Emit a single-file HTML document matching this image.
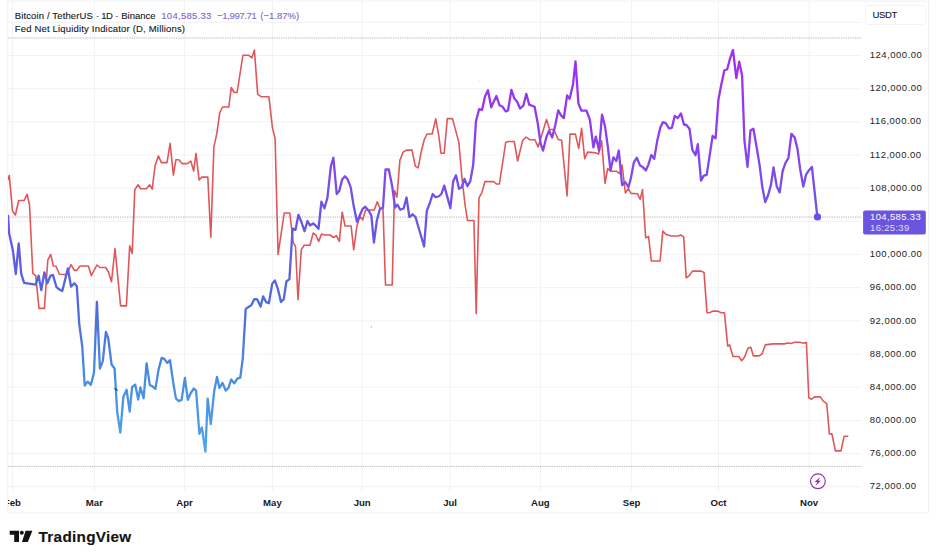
<!DOCTYPE html><html><head><meta charset="utf-8"><title>chart</title><style>
html,body{margin:0;padding:0;background:#fff}
body{width:936px;height:560px;position:relative;overflow:hidden;font-family:"Liberation Sans",sans-serif;color:#131722}
.t{position:absolute;white-space:nowrap;line-height:1;-webkit-text-stroke:0.12px}
.yl{position:absolute;left:869.8px;font-size:9.5px;letter-spacing:0.5px;line-height:12px;height:12px;color:#1b1e27;white-space:nowrap}
.xl{position:absolute;top:496.8px;font-size:9.6px;font-weight:bold;line-height:12px;color:#16181f;white-space:nowrap;transform:translateX(-50%)}

</style></head><body>
<svg width="936" height="560" viewBox="0 0 936 560" style="position:absolute;left:0;top:0">
<defs><linearGradient id="bg" gradientUnits="userSpaceOnUse" x1="0" y1="50" x2="0" y2="452"><stop offset="0" stop-color="#A22FF2"/><stop offset="0.15" stop-color="#9438F0"/><stop offset="0.30" stop-color="#7F49EC"/><stop offset="0.42" stop-color="#6A55E4"/><stop offset="0.55" stop-color="#5862DF"/><stop offset="0.63" stop-color="#5069DE"/><stop offset="0.72" stop-color="#4B7ADE"/><stop offset="0.82" stop-color="#498DE1"/><stop offset="0.92" stop-color="#4A9BE5"/><stop offset="1" stop-color="#4BA7EC"/></linearGradient><clipPath id="cp"><rect x="8" y="1" width="854" height="512"/></clipPath></defs>
<g stroke="#f2f2f3" stroke-width="1"><line x1="12.4" y1="1.5" x2="12.4" y2="490.7"/><line x1="94.4" y1="1.5" x2="94.4" y2="490.7"/><line x1="184.6" y1="1.5" x2="184.6" y2="490.7"/><line x1="272.4" y1="1.5" x2="272.4" y2="490.7"/><line x1="362.2" y1="1.5" x2="362.2" y2="490.7"/><line x1="450.1" y1="1.5" x2="450.1" y2="490.7"/><line x1="540.4" y1="1.5" x2="540.4" y2="490.7"/><line x1="631.6" y1="1.5" x2="631.6" y2="490.7"/><line x1="718.5" y1="1.5" x2="718.5" y2="490.7"/><line x1="809.1" y1="1.5" x2="809.1" y2="490.7"/><line x1="8" y1="22.3" x2="861.5" y2="22.3"/><line x1="8" y1="55.5" x2="861.5" y2="55.5"/><line x1="8" y1="88.7" x2="861.5" y2="88.7"/><line x1="8" y1="121.8" x2="861.5" y2="121.8"/><line x1="8" y1="155.0" x2="861.5" y2="155.0"/><line x1="8" y1="188.2" x2="861.5" y2="188.2"/><line x1="8" y1="221.4" x2="861.5" y2="221.4"/><line x1="8" y1="254.5" x2="861.5" y2="254.5"/><line x1="8" y1="287.7" x2="861.5" y2="287.7"/><line x1="8" y1="320.9" x2="861.5" y2="320.9"/><line x1="8" y1="354.0" x2="861.5" y2="354.0"/><line x1="8" y1="387.2" x2="861.5" y2="387.2"/><line x1="8" y1="420.4" x2="861.5" y2="420.4"/><line x1="8" y1="453.5" x2="861.5" y2="453.5"/><line x1="8" y1="486.7" x2="861.5" y2="486.7"/></g>
<path d="M7.7 1 H928.5 V513 H7.7 Z" fill="none" stroke="#eff0f2" stroke-width="1"/>
<g stroke="#a2a4ae" stroke-width="1" stroke-dasharray="0.8 0.95"><line x1="8" y1="38" x2="861.5" y2="38"/><line x1="8" y1="466.4" x2="861.5" y2="466.4"/><line x1="8" y1="217.05" x2="861.5" y2="217.05"/></g>
<g clip-path="url(#cp)"><path d="M8.1 179.5 L9.3 175.4 L12.5 211.1 L15.4 215.0 L18.7 200.5 L24.1 200.5 L27.0 194.3 L29.5 204.8 L32.8 273.3 L35.7 275.6 L39.0 308.4 L44.4 308.4 L47.8 260.2 L50.7 254.4 L53.4 266.0 L56.0 266.3 L59.4 274.2 L66.6 274.6 L71.0 264.6 L74.3 270.4 L76.8 270.4 L80.0 266.0 L88.4 266.0 L91.3 275.6 L96.9 265.0 L100.0 267.5 L105.7 267.5 L108.4 271.7 L111.5 281.8 L115.0 248.6 L120.6 305.9 L126.4 305.9 L129.7 245.7 L132.2 253.4 L134.8 189.6 L138.1 184.8 L140.6 188.7 L146.4 188.7 L149.7 184.8 L152.2 189.2 L155.1 165.5 L158.4 155.9 L161.4 162.6 L167.0 162.6 L170.1 143.3 L173.4 175.2 L175.9 159.7 L178.8 159.7 L182.1 163.6 L187.3 163.6 L190.8 161.1 L193.7 170.9 L196.0 153.4 L199.1 180.0 L202.0 177.1 L207.8 177.1 L210.8 237.2 L213.9 146.8 L216.8 133.7 L219.7 112.8 L222.6 107.0 L228.8 107.0 L231.3 87.5 L234.2 92.5 L237.1 92.5 L242.9 55.3 L248.7 55.3 L251.9 57.8 L254.4 50.0 L257.7 94.4 L261.2 96.7 L268.9 96.7 L272.4 127.6 L275.1 138.5 L278.1 254.4 L284.2 213.0 L289.8 213.0 L293.2 242.4 L295.5 246.3 L298.0 299.8 L301.3 249.6 L304.2 245.3 L310.0 245.3 L313.1 233.1 L315.8 235.0 L318.7 241.4 L321.5 234.1 L324.4 235.0 L330.2 235.0 L333.5 237.5 L336.4 235.6 L339.3 241.4 L342.2 212.2 L345.1 226.0 L351.1 226.0 L353.7 249.8 L356.9 226.0 L359.8 216.5 L362.7 219.8 L365.6 210.0 L374.2 210.0 L377.3 201.8 L380.1 208.5 L383.0 208.5 L385.5 285.0 L392.2 285.0 L394.5 190.6 L396.9 197.3 L399.9 160.3 L403.0 152.3 L406.5 150.1 L412.0 150.1 L415.3 166.1 L418.2 167.9 L421.1 152.2 L424.1 140.2 L427.0 134.0 L432.2 134.0 L435.7 118.9 L438.6 134.4 L441.0 153.2 L444.2 153.2 L447.3 118.6 L452.5 118.6 L458.8 142.1 L462.0 178.0 L465.0 204.6 L467.5 220.5 L473.9 220.5 L476.2 313.6 L479.0 197.9 L482.0 192.3 L484.9 181.6 L493.6 181.6 L496.5 184.0 L499.4 184.0 L505.7 142.5 L508.0 141.5 L514.3 141.5 L517.6 161.0 L522.7 140.5 L526.2 137.0 L529.5 139.7 L535.0 139.8 L538.1 147.0 L546.5 119.6 L549.6 129.5 L553.8 129.5 L558.2 139.5 L561.6 140.2 L567.1 196.0 L570.0 134.1 L575.4 134.1 L578.7 148.4 L581.6 128.2 L584.7 158.8 L587.6 152.1 L595.6 152.8 L598.6 154.0 L601.6 140.7 L605.0 183.3 L607.7 168.5 L610.5 171.2 L616.3 171.2 L619.8 173.7 L622.1 165.0 L625.4 193.0 L628.3 188.6 L631.0 193.4 L637.3 193.7 L640.2 199.3 L642.5 189.6 L645.7 237.9 L648.6 236.5 L651.3 261.0 L660.1 261.0 L662.8 231.1 L666.3 234.6 L671.1 236.0 L677.9 236.0 L680.8 235.0 L683.7 236.9 L686.2 277.9 L688.8 276.2 L692.5 271.1 L700.9 271.1 L704.0 272.4 L707.0 312.7 L709.9 312.5 L712.8 311.1 L717.6 311.1 L721.1 312.7 L724.4 312.7 L727.7 346.2 L729.6 344.9 L733.1 356.5 L738.8 356.5 L741.7 360.7 L744.6 357.0 L747.9 348.2 L750.8 347.2 L753.3 355.9 L759.1 355.9 L762.0 354.0 L765.3 344.9 L770.7 344.1 L773.6 343.9 L784.2 343.9 L788.0 343.0 L790.9 343.5 L794.8 342.2 L799.6 342.2 L802.9 343.0 L806.4 342.6 L808.8 397.8 L811.6 399.2 L814.5 396.9 L820.3 396.9 L823.2 401.1 L826.7 403.6 L829.4 433.9 L831.9 433.9 L835.4 450.9 L841.0 450.9 L844.1 436.2 L847.7 436.2" fill="none" stroke="#e0575a" stroke-width="1.6" stroke-linejoin="round" stroke-linecap="round"/>
<path d="M8.1 215.8 L9.1 233.2 L12.9 250.5 L15.8 274.0 L18.7 243.4 L21.2 273.7 L24.1 282.9 L35.7 284.7 L38.6 275.6 L41.3 290.0 L44.4 272.3 L47.3 283.3 L50.5 275.6 L53.0 275.0 L56.5 287.2 L59.4 289.5 L62.3 291.0 L67.9 268.3 L71.0 286.6 L74.3 283.3 L76.8 286.2 L79.3 324.7 L82.2 346.0 L84.7 385.5 L87.6 381.6 L90.9 384.8 L94.0 372.5 L96.9 302.0 L99.9 368.6 L102.8 361.2 L105.9 332.0 L108.2 338.2 L111.6 364.5 L114.6 368.7 L117.2 412.0 L120.3 432.7 L123.4 396.7 L126.6 389.8 L129.7 411.7 L132.1 387.2 L135.2 384.6 L138.2 399.6 L140.4 387.5 L143.6 398.2 L146.6 363.4 L149.8 385.1 L152.5 386.3 L155.4 388.9 L158.5 369.8 L161.7 357.9 L164.2 358.9 L167.2 362.9 L170.0 360.2 L173.0 381.2 L175.9 398.4 L178.8 401.1 L181.6 399.9 L184.9 377.8 L187.8 399.9 L190.5 393.5 L193.8 388.5 L196.1 390.6 L199.4 433.9 L201.9 427.5 L205.4 451.6 L207.7 398.6 L210.8 424.2 L214.1 391.8 L217.0 376.9 L219.5 388.0 L222.5 382.9 L225.7 390.6 L228.6 387.7 L231.2 379.5 L234.3 383.4 L237.3 378.6 L240.3 377.6 L242.8 358.1 L245.7 308.9 L248.6 307.0 L251.4 305.1 L254.4 299.1 L257.3 299.5 L260.6 306.6 L263.1 296.4 L266.2 302.2 L268.9 303.2 L272.2 283.9 L274.9 280.4 L277.8 288.8 L281.0 302.0 L283.7 299.3 L286.4 281.5 L289.4 279.2 L292.6 228.6 L295.5 229.9 L298.4 214.8 L301.4 222.0 L304.5 231.2 L307.5 221.0 L310.0 225.4 L313.1 223.5 L315.8 225.7 L318.5 228.8 L321.4 201.6 L324.4 208.4 L327.4 197.9 L330.9 166.0 L333.4 157.8 L336.7 194.0 L339.2 191.1 L342.1 179.6 L345.0 176.3 L347.8 179.6 L350.7 187.3 L353.6 205.6 L357.0 221.7 L362.5 209.2 L365.3 206.7 L368.9 211.0 L371.4 215.8 L373.9 242.5 L376.9 220.2 L379.8 209.2 L383.0 207.5 L385.5 169.5 L388.8 169.5 L392.2 186.3 L395.1 207.5 L397.4 204.6 L400.3 209.8 L403.6 208.5 L406.5 197.5 L409.4 217.2 L412.5 214.3 L415.4 216.8 L424.1 246.5 L426.8 211.0 L429.7 203.3 L432.7 194.0 L435.6 197.2 L438.5 196.5 L441.4 194.0 L444.2 185.6 L450.4 208.1 L453.2 181.3 L456.0 175.3 L459.0 188.8 L461.7 187.3 L464.5 178.8 L467.4 186.2 L470.3 181.1 L473.2 164.7 L476.0 121.0 L479.1 109.2 L482.0 110.0 L485.0 96.4 L488.0 90.2 L491.2 107.3 L496.4 96.0 L499.5 105.2 L502.6 106.8 L505.7 111.4 L508.0 110.5 L511.4 89.8 L514.3 98.4 L517.0 101.5 L520.1 108.5 L523.4 105.6 L526.3 93.8 L529.2 104.6 L534.6 106.8 L537.7 123.0 L540.6 143.7 L543.1 150.6 L546.4 137.0 L549.1 130.7 L552.2 137.4 L555.1 126.0 L558.2 110.4 L561.1 115.4 L563.8 118.1 L567.1 95.5 L569.6 98.8 L572.9 85.1 L575.5 61.4 L578.4 103.5 L581.4 110.6 L586.5 110.6 L589.9 119.9 L593.4 147.4 L595.8 136.6 L599.0 150.6 L602.0 114.6 L605.0 126.2 L607.7 145.7 L610.5 170.4 L613.4 157.3 L616.3 161.1 L618.8 150.5 L622.1 185.2 L625.2 182.0 L628.5 187.2 L631.0 177.5 L633.9 162.1 L636.8 157.8 L640.1 165.6 L642.6 166.9 L645.9 170.4 L648.4 164.6 L651.3 155.0 L654.2 158.8 L657.4 139.9 L660.3 127.4 L662.8 122.2 L665.7 123.1 L669.0 128.3 L671.9 127.8 L674.8 115.8 L677.7 118.1 L681.0 113.5 L683.9 124.5 L686.4 125.0 L689.5 128.8 L692.4 150.0 L695.5 155.2 L697.8 144.2 L701.0 180.6 L703.8 175.6 L706.7 174.8 L712.6 136.0 L715.6 138.3 L718.4 99.8 L721.3 84.4 L724.3 70.5 L727.2 69.3 L730.1 58.3 L733.0 50.0 L736.3 78.0 L739.2 61.6 L742.1 75.7 L744.4 140.0 L747.5 166.9 L750.5 130.2 L753.4 128.7 L756.2 144.7 L759.5 164.4 L762.4 187.5 L765.2 202.0 L768.1 195.2 L771.0 184.6 L773.5 167.3 L776.8 186.6 L779.7 192.4 L782.6 171.1 L785.5 162.8 L788.4 158.0 L791.4 133.9 L794.7 137.5 L797.5 148.9 L800.0 168.2 L803.3 186.6 L806.1 174.6 L809.0 170.2 L811.9 166.9 L814.8 193.3 L817.3 216.7" fill="none" stroke="url(#bg)" stroke-width="2.3" stroke-linejoin="round" stroke-linecap="round"/></g>
<circle cx="817.5" cy="216.9" r="3.6" fill="#6a50e6"/>
<rect x="863.1" y="210.5" width="62.7" height="24" rx="2" fill="#6b54e0"/>
<path d="M114.3 388.7 L118 390.3" stroke="#15202b" stroke-width="0.9"/>
<circle cx="371.3" cy="326.9" r="0.6" fill="#35c0c8"/><circle cx="479.3" cy="81" r="0.5" fill="#c8c8cc"/>
<g><circle cx="817.9" cy="481.3" r="7.4" fill="#fff" stroke="#9033b2" stroke-width="1.2"/><path d="M820.3 476.9 L814.5 481.9 L817.4 481.9 L815.2 486 L821.1 480.8 L818.3 480.8 Z" fill="#9033b2"/></g>
<g fill="#131313"><path d="M9.7 530.7 H19 V541.9 H14.2 V534.8 H9.7 Z"/><circle cx="21.8" cy="532.7" r="2"/><path d="M25.6 530.7 H32.4 L27.8 541.9 H22.0 Z"/></g>
</svg>
<div class="t" id="h1a" style="left:14.7px;top:10.9px;font-size:9.5px;color:#16181f;letter-spacing:0.14px;">Bitcoin / TetherUS</div>
<div class="t" id="h1d1" style="left:96.1px;top:10.9px;font-size:9.5px;color:#16181f;letter-spacing:0px;">·</div>
<div class="t" id="h1e" style="left:101.3px;top:10.9px;font-size:9.5px;color:#16181f;letter-spacing:-0.6px;">1D</div>
<div class="t" id="h1d2" style="left:115.3px;top:10.9px;font-size:9.5px;color:#16181f;letter-spacing:0px;">·</div>
<div class="t" id="h1f" style="left:121.3px;top:10.9px;font-size:9.5px;color:#16181f;letter-spacing:-0.03px;">Binance</div>
<div class="t" id="h1b" style="left:161.3px;top:10.9px;font-size:9.5px;color:#7a68d4;letter-spacing:0.28px;">104,585.33</div>
<div class="t" id="h1c" style="left:217px;top:10.9px;font-size:9.5px;color:#7a68d4;letter-spacing:-0.34px;">−1,997.71</div>
<div class="t" id="h1g" style="left:260.3px;top:10.9px;font-size:9.5px;color:#7a68d4;letter-spacing:0px;">(−1.87%)</div>
<div class="t" id="h2" style="left:14.7px;top:23.9px;font-size:9.5px;color:#16181f;letter-spacing:0.18px;">Fed Net Liquidity Indicator (D, Millions)</div>
<div style="position:absolute;left:865px;top:5px;width:61px;height:20px;border:1px solid #f3f4f6;border-radius:3px;box-sizing:border-box"></div>
<div class="t" id="usdt" style="left:872.5px;top:9.8px;font-size:9.5px;color:#16181f;letter-spacing:-0.35px;">USDT</div>
<div class="yl" style="top:49.1px">124,000.00</div>
<div class="yl" style="top:82.3px">120,000.00</div>
<div class="yl" style="top:115.4px">116,000.00</div>
<div class="yl" style="top:148.6px">112,000.00</div>
<div class="yl" style="top:181.8px">108,000.00</div>
<div class="yl" style="top:248.1px">100,000.00</div>
<div class="yl" style="top:281.3px">96,000.00</div>
<div class="yl" style="top:314.5px">92,000.00</div>
<div class="yl" style="top:347.6px">88,000.00</div>
<div class="yl" style="top:380.8px">84,000.00</div>
<div class="yl" style="top:414.0px">80,000.00</div>
<div class="yl" style="top:447.1px">76,000.00</div>
<div class="yl" style="top:480.3px">72,000.00</div>
<div class="t" id="pl1" style="left:870.1px;top:211.9px;font-size:9.5px;color:#fff;letter-spacing:0.34px;-webkit-text-stroke:0">104,585.33</div>
<div class="t" id="pl2" style="left:870.1px;top:222.5px;font-size:9.5px;color:#e3ddfa;letter-spacing:0.31px;-webkit-text-stroke:0">16:25:39</div>
<div class="xl" style="left:12.4px;clip-path:inset(0 0 0 calc(50% - 4.4px))">Feb</div>
<div class="xl" style="left:94.4px">Mar</div>
<div class="xl" style="left:184.6px">Apr</div>
<div class="xl" style="left:272.4px">May</div>
<div class="xl" style="left:362.2px">Jun</div>
<div class="xl" style="left:450.1px">Jul</div>
<div class="xl" style="left:540.4px">Aug</div>
<div class="xl" style="left:631.6px">Sep</div>
<div class="xl" style="left:718.5px">Oct</div>
<div class="xl" style="left:809.1px">Nov</div>
<div class="t" id="tv" style="left:38.6px;top:529.0px;font-size:15.3px;color:#131313;letter-spacing:0.28px;font-weight:bold">TradingView</div>
</body></html>
